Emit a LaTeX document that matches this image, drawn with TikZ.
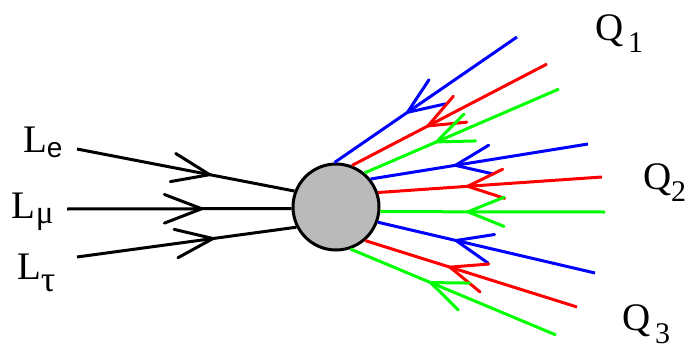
\documentclass[tikz,border=0pt]{standalone}
\usepackage{fontspec}
\setmainfont{Liberation Serif}
\newfontfamily\subsans{Liberation Sans}
\usetikzlibrary{calc}
\definecolor{qb}{RGB}{0,0,255}
\definecolor{qr}{RGB}{255,0,0}
\definecolor{qg}{RGB}{0,255,0}
\tikzset{
  leg/.style={line width=3pt, line cap=butt},
  chev/.style={line width=3pt, line cap=round, line join=miter},
  lab/.style={anchor=base west, inner sep=0pt, outer sep=0pt, font=\fontsize{39}{39}\selectfont},
  blob/.style={circle, draw, line width=3pt, minimum size=86pt, inner sep=0pt, fill=black!27},
}
\newcommand\lowsub[3]{\raisebox{-#1}{\fontsize{#2}{#2}\selectfont #3}}
\begin{document}
\begin{tikzpicture}[x=1pt,y=-1pt]
\useasboundingbox (0,0) rectangle (690,353);
\node[blob] (c) at (336,207) {};
% leptons (incoming)
\foreach \n/\x/\y/\a/\t in {e/77/149/159.7/0.61, mu/67/209/182.5/0.60, tau/77/257/207.5/0.62}{
  \coordinate (L\n) at (\x,\y);
  \draw[leg] (L\n) -- (c.\a);
  \coordinate (t\n) at ($(L\n)!\t!(c.\a)$);
  \draw[chev] ($(t\n)!40pt!21:(L\n)$) -- (t\n) -- ($(t\n)!40pt!-21:(L\n)$);
}
% quarks (arrows towards the blob)
\foreach \n/\x/\y/\a/\t/\col in {
  b1/517/37/92/0.40/qb, r1/547/64/69/0.39/qr, g1/559/89/50/0.37/qg,
  b2/588/144/39/0.39/qb, r2/602/177/19/0.40/qr, g2/605/212/-6/0.39/qg,
  b3/595/273/-20/0.36/qb, r3/577/307/-49/0.40/qr, g3/556/335/-71/0.39/qg}{
  \coordinate (Q\n) at (\x,\y);
  \draw[leg, draw=\col] (c.\a) -- (Q\n);
  \coordinate (t\n) at ($(c.\a)!\t!(Q\n)$);
  \draw[chev, draw=\col] ($(t\n)!39pt!22:(Q\n)$) -- (t\n) -- ($(t\n)!39pt!-22:(Q\n)$);
}
% labels
\node[lab] (labe) at (23,152) {L\lowsub{5pt}{28}{\subsans e}};
\node[lab] (labmu) at (12,218) {L\lowsub{5pt}{33}{μ}};
\node[lab] (labtau) at (17,279) {L\lowsub{12pt}{36}{τ}};
\node[lab] (labq1) at (595,41) {Q\lowsub{12pt}{30}{\,1}};
\node[lab] (labq2) at (643,189) {Q\lowsub{12pt}{30}{2}};
\node[lab] (labq3) at (622,330) {Q\lowsub{13pt}{30}{\,3}};
\end{tikzpicture}
\end{document}
